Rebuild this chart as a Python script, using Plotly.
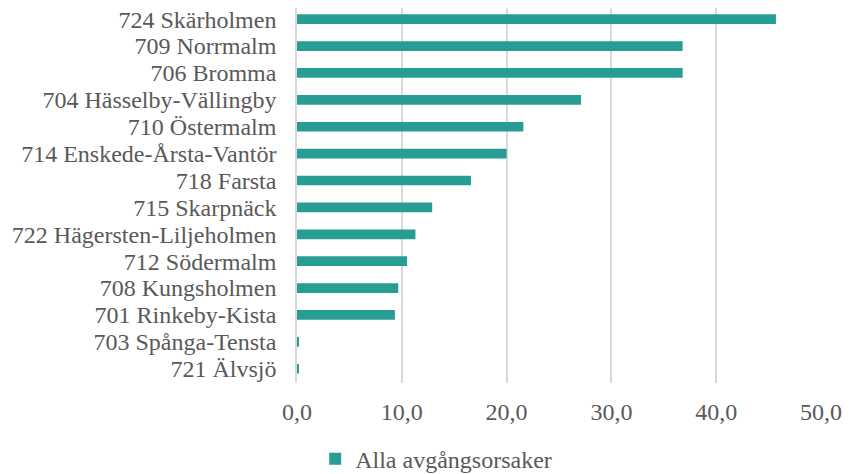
import plotly.graph_objects as go

categories = [
    "724 Skärholmen", "709 Norrmalm", "706 Bromma", "704 Hässelby-Vällingby",
    "710 Östermalm", "714 Enskede-Årsta-Vantör", "718 Farsta", "715 Skarpnäck",
    "722 Hägersten-Liljeholmen", "712 Södermalm", "708 Kungsholmen",
    "701 Rinkeby-Kista", "703 Spånga-Tensta", "721 Älvsjö",
]
values = [45.7, 36.8, 36.8, 27.1, 21.6, 20.0, 16.6, 12.9, 11.3, 10.5, 9.66, 9.34, 0.14, 0.1]
series_name = "Alla avgångsorsaker"
x_ticks = [0, 10, 20, 30, 40, 50]
x_tick_labels = ["0,0", "10,0", "20,0", "30,0", "40,0", "50,0"]

font_family = "Liberation Serif, Times New Roman, serif"
text_color = "#595959"
bar_color = "#279D93"

fig = go.Figure(go.Bar(
    y=categories, x=values, orientation="h", name=series_name,
    marker=dict(color=bar_color, line=dict(width=0)),
    showlegend=True,
))

fig.update_layout(
    width=853, height=474,
    margin=dict(l=289, r=40, t=0, b=99),
    paper_bgcolor="white", plot_bgcolor="white",
    font=dict(family=font_family, size=24, color=text_color),
    bargap=0.64,
    showlegend=True,
    legend=dict(orientation="h", xref="container", yref="container",
                x=0.502, xanchor="center", y=0.048, yanchor="middle",
                font=dict(size=24, color=text_color)),
    xaxis=dict(range=[0, 50], tickvals=x_ticks, ticktext=x_tick_labels,
               showgrid=True, gridcolor="#D9D9D9", gridwidth=1.5,
               zeroline=False, showline=False, ticks="", ticklabelstandoff=12),
    yaxis=dict(range=[13.53, -0.415], tickmode="array", tickvals=categories,
               ticktext=categories, showgrid=False, zeroline=False,
               showline=True, linecolor="#D9D9D9", linewidth=1.5,
               ticks="", ticklabelstandoff=14),
)

fig.write_html("out.html")
